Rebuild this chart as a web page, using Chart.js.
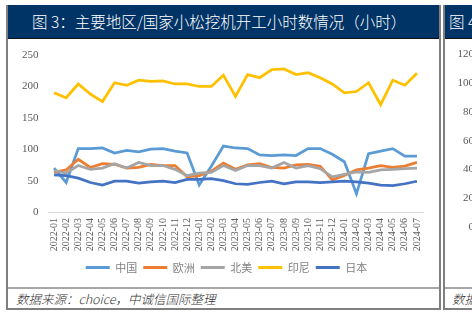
<!DOCTYPE html>
<html>
<head>
<meta charset="utf-8">
<script src="https://cdn.jsdelivr.net/npm/chart.js@4.4.0/dist/chart.umd.min.js"></script>
<style>
  html, body { margin: 0; padding: 0; background: #fff; }
  body { width: 472px; height: 334px; overflow: hidden; position: relative; }
  .panel { position: absolute; top: 5px; height: 305px; box-sizing: border-box;
           border-left: 2px solid #7f7f7f; border-bottom: 2px solid #7f7f7f; }
  #left { left: 6px; width: 435px; border-right: 2px solid #7f7f7f; }
  #right { left: 443px; width: 60px; }
  .title { position: absolute; left: 0; right: 0; top: 0; height: 34px; background: #003366;
           color: #fff; font: 300 15.5px "Noto Sans CJK SC", sans-serif; line-height: 32px;
           border-bottom: 1px solid #111; box-sizing: border-box; white-space: nowrap; }
  .body { position: absolute; left: 0; right: 0; top: 34px; height: 248px; }
  .foot { position: absolute; left: 0; right: 0; top: 282px; height: 21px; box-sizing: border-box;
          border-top: 2px solid #a6a6a6; font: italic 300 12.5px "Noto Sans CJK SC", sans-serif;
          color: #333; line-height: 20px; white-space: nowrap; }
</style>
</head>
<body>
<div class="panel" id="left">
  <div class="title" style="padding-left:24px">图 3：主要地区/国家小松挖机开工小时数情况（小时）</div>
  <div class="body"><canvas id="evChart" width="431" height="248"></canvas></div>
  <div class="foot" style="padding-left:8px">数据来源：choice，中诚信国际整理</div>
</div>
<div class="panel" id="right">
  <div class="title" style="padding-left:4px">图 4</div>
  <div class="body"><canvas id="sideChart" width="120" height="248"></canvas></div>
  <div class="foot" style="padding-left:7px">数据来源</div>
</div>
<script>
// month labels, 2022-01 .. 2024-07
const months = ['2022-01','2022-02','2022-03','2022-04','2022-05','2022-06','2022-07','2022-08','2022-09','2022-10','2022-11','2022-12',
                '2023-01','2023-02','2023-03','2023-04','2023-05','2023-06','2023-07','2023-08','2023-09','2023-10','2023-11','2023-12',
                '2024-01','2024-02','2024-03','2024-04','2024-05','2024-06','2024-07'];

// hours per region
const china     = [70, 47, 101, 101, 102, 94, 98, 96, 100, 101, 97, 94,
                   43, 73, 105, 102, 101, 91, 90, 91, 90, 101, 101, 92,
                   80, 29, 93, 97, 101, 89, 89];
const europe    = [63, 67, 84, 71, 77, 76, 70, 71, 76, 74, 74, 56,
                   58, 65, 78, 68, 75, 77, 71, 70, 75, 76, 73, 51,
                   58, 67, 70, 74, 71, 73, 79];
const nAmerica  = [66, 62, 74, 68, 70, 77, 70, 79, 74, 74, 68, 58,
                   62, 63, 74, 66, 74, 74, 70, 79, 70, 74, 69, 56,
                   60, 64, 63, 67, 68, 69, 70];
const indonesia = [190, 182, 204, 188, 176, 206, 202, 210, 208, 209, 204, 204,
                   200, 200, 218, 184, 219, 214, 227, 228, 219, 222, 214, 204,
                   190, 192, 206, 171, 210, 202, 221];
const japan     = [59, 58, 54, 47, 43, 49, 49, 46, 48, 49, 47, 52,
                   52, 53, 50, 45, 44, 47, 49, 45, 48, 48, 47, 48,
                   49, 48, 46, 43, 42, 45, 49];

const seriesNames = ['中国', '欧洲', '北美', '印尼', '日本'];
const yTicks = [0, 50, 100, 150, 200, 250];
const sideTicks = [0, 20, 40, 60, 80, 100, 120];

const colors = ['#5B9BD5', '#ED7D31', '#A5A5A5', '#FFC000', '#4472C4'];
const values = [china, europe, nAmerica, indonesia, japan];

const serif = '"Liberation Serif", "Times New Roman", serif';
const tickGray = '#595959';

const datasets = values.map((vals, i) => ({
    label: seriesNames[i],
    data: vals,
    borderColor: colors[i],
    backgroundColor: colors[i],
    borderWidth: 2.75,
    pointRadius: 0,
    tension: 0,
    order: values.length - i   // later series drawn on top, like Excel
}));

// the legend in the original sits a bit right of the canvas centre
const legendShift = {
    id: 'legendShift',
    afterLayout(chart) {
        chart.legend.left += 11;
        chart.legend.right += 11;
    }
};

new Chart(document.getElementById('evChart'), {
    type: 'line',
    data: { labels: months, datasets: datasets },
    plugins: [legendShift],
    options: {
        responsive: false,
        animation: false,
        layout: { padding: { top: 13, right: 16, bottom: 4, left: 0 } },
        plugins: {
            tooltip: { enabled: false },
            legend: {
                position: 'bottom',
                labels: {
                    boxWidth: 24,
                    boxHeight: 3,
                    padding: 6,
                    color: '#808080',
                    font: { size: 11, family: '"Noto Sans CJK SC", sans-serif' },
                    sort: (a, b) => a.datasetIndex - b.datasetIndex,
                    generateLabels: chart => Chart.defaults.plugins.legend.labels.generateLabels(chart)
                        .map(item => Object.assign(item, { lineWidth: 0 }))
                }
            }
        },
        scales: {
            x: {
                offset: true,
                grid: { display: false, drawTicks: false },
                border: { display: true, color: '#d9d9d9', width: 1 },
                ticks: {
                    autoSkip: false,
                    minRotation: 90,
                    maxRotation: 90,
                    padding: 6,
                    color: tickGray,
                    font: { size: 10, family: serif }
                },
                afterFit: scale => { scale.height = 44; }
            },
            y: {
                min: 0,
                max: 250,
                grid: { display: false, drawTicks: false },
                border: { display: false },
                afterBuildTicks: scale => { scale.ticks = yTicks.map(v => ({ value: v })); },
                ticks: { padding: 9.5, color: tickGray, font: { size: 11, family: serif } },
                afterFit: scale => { scale.width = 40; }
            }
        }
    }
});

// partly visible neighbour panel: only its value axis shows
new Chart(document.getElementById('sideChart'), {
    type: 'line',
    data: { labels: months, datasets: [] },
    options: {
        responsive: false,
        animation: false,
        layout: { padding: { top: 14, bottom: 60, left: 0, right: 0 } },
        plugins: { legend: { display: false }, tooltip: { enabled: false } },
        scales: {
            x: { display: false },
            y: {
                min: 0,
                max: 120,
                grid: { display: false, drawTicks: false },
                border: { display: false },
                afterBuildTicks: scale => { scale.ticks = sideTicks.map(v => ({ value: v })); },
                ticks: { padding: 9, color: tickGray, font: { size: 11, family: serif } },
                afterFit: scale => { scale.width = 38; }
            }
        }
    }
});
</script>
</body>
</html>
